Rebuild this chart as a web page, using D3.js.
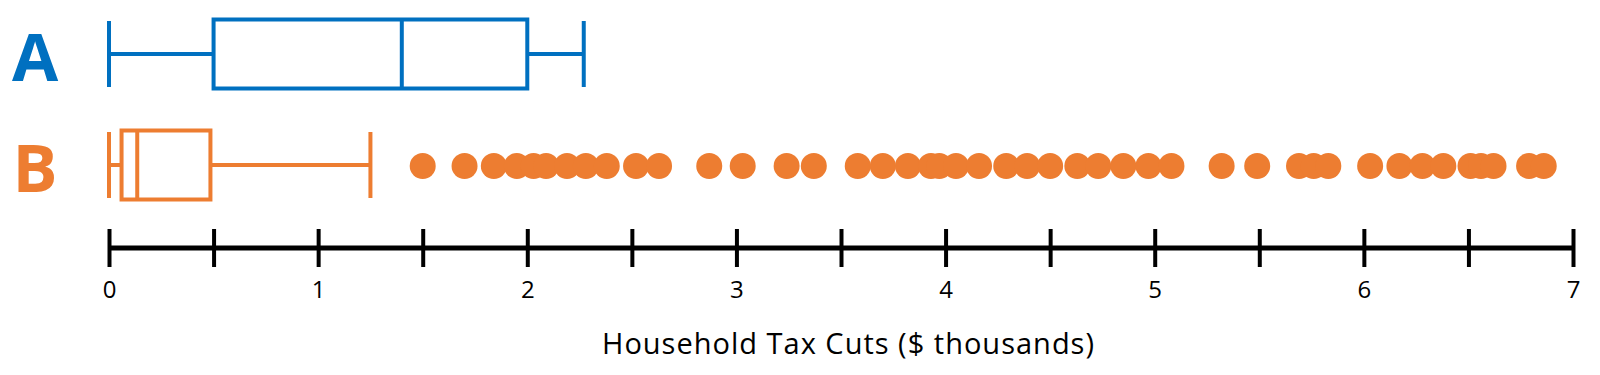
<!DOCTYPE html>
<html>
<head>
<meta charset="utf-8">
<script src="https://cdn.jsdelivr.net/npm/d3@7"></script>
<style>
  body { margin: 0; background: #fff; }
  svg { display: block; }
</style>
</head>
<body>
<div id="chart"></div>
<script>
// groups and their five-number summaries ($ thousands)
var groups = ['A', 'B'];
var groupColors = ['#0070C0', '#ED7D31'];
var mins = [0, 0];
var q1s = [0.5, 0.06];
var medians = [1.4, 0.135];
var q3s = [2.0, 0.485];
var maxs = [2.27, 1.25];

// outliers of group B
var outliersB = [1.50, 1.70, 1.84, 1.95, 2.03, 2.09, 2.19, 2.28, 2.38, 2.52, 2.63,
  2.87, 3.03, 3.24, 3.37, 3.58, 3.70, 3.82, 3.93, 3.97, 4.05, 4.16, 4.29, 4.39,
  4.50, 4.63, 4.73, 4.85, 4.97, 5.08, 5.32, 5.49, 5.69, 5.76, 5.83, 6.03, 6.17,
  6.28, 6.38, 6.51, 6.56, 6.62, 6.79, 6.86];

var tickValues = [0, 0.5, 1, 1.5, 2, 2.5, 3, 3.5, 4, 4.5, 5, 5.5, 6, 6.5, 7];
var axisTitle = 'Household Tax Cuts ($ thousands)';

var width = 1600, height = 375;

var svg = d3.select('#chart').append('svg')
  .attr('width', width)
  .attr('height', height);

var x = d3.scaleLinear()
  .domain([0, 7])
  .range([109, 1573]);

var y = d3.scalePoint()
  .domain(groups)
  .range([54, 165]);

var boxH = 69;
var capH = 66;

// box plots
groups.forEach(function(g, i){
  var c = groupColors[i];
  var cy = y(g);
  var row = svg.append('g').attr('fill', 'none').attr('stroke', c).attr('stroke-width', 4);

  // whiskers
  row.append('line')
    .attr('x1', x(mins[i])).attr('x2', x(q1s[i]))
    .attr('y1', cy).attr('y2', cy);
  row.append('line')
    .attr('x1', x(q3s[i])).attr('x2', x(maxs[i]))
    .attr('y1', cy).attr('y2', cy);
  // caps
  row.append('line')
    .attr('x1', x(mins[i])).attr('x2', x(mins[i]))
    .attr('y1', cy - capH / 2).attr('y2', cy + capH / 2);
  row.append('line')
    .attr('x1', x(maxs[i])).attr('x2', x(maxs[i]))
    .attr('y1', cy - capH / 2).attr('y2', cy + capH / 2);
  // box
  row.append('rect')
    .attr('x', x(q1s[i]))
    .attr('y', cy - boxH / 2)
    .attr('width', x(q3s[i]) - x(q1s[i]))
    .attr('height', boxH);
  // median
  row.append('line')
    .attr('x1', x(medians[i])).attr('x2', x(medians[i]))
    .attr('y1', cy - boxH / 2).attr('y2', cy + boxH / 2);

  // group letter
  svg.append('text')
    .attr('x', 35)
    .attr('y', cy + 27)
    .attr('text-anchor', 'middle')
    .attr('font-family', 'Open Sans, sans-serif')
    .attr('font-weight', 'bold')
    .attr('font-size', 67)
    .attr('fill', c)
    .text(g);
});

// outlier dots
svg.append('g').selectAll('circle')
  .data(outliersB)
  .enter()
  .append('circle')
  .attr('cx', function(d){ return x(d); })
  .attr('cy', y('B') + 1)
  .attr('r', 13)
  .attr('fill', groupColors[1]);

// axis
var axis = d3.axisBottom(x)
  .tickValues(tickValues)
  .tickSizeInner(19)
  .tickSizeOuter(0)
  .tickFormat(function(d){ return d % 1 === 0 ? d : ''; });

var axisG = svg.append('g')
  .attr('transform', 'translate(0,248)')
  .call(axis);

axisG.select('.domain')
  .attr('stroke', '#000')
  .attr('stroke-width', 5)
  .attr('d', 'M' + x(0) + ',0H' + x(7));
axisG.selectAll('.tick line')
  .attr('stroke', '#000')
  .attr('stroke-width', 4)
  .attr('y1', -19)
  .attr('y2', 19);
axisG.selectAll('.tick text')
  .attr('y', 0)
  .attr('dy', 50)
  .attr('fill', '#000')
  .attr('font-family', 'Open Sans, sans-serif')
  .attr('font-size', 24);

svg.append('text')
  .attr('x', 848)
  .attr('y', 354)
  .attr('text-anchor', 'middle')
  .attr('font-family', 'Open Sans, sans-serif')
  .attr('font-size', 29)
  .attr('textLength', 492)
  .attr('fill', '#000')
  .text(axisTitle);
</script>
</body>
</html>
